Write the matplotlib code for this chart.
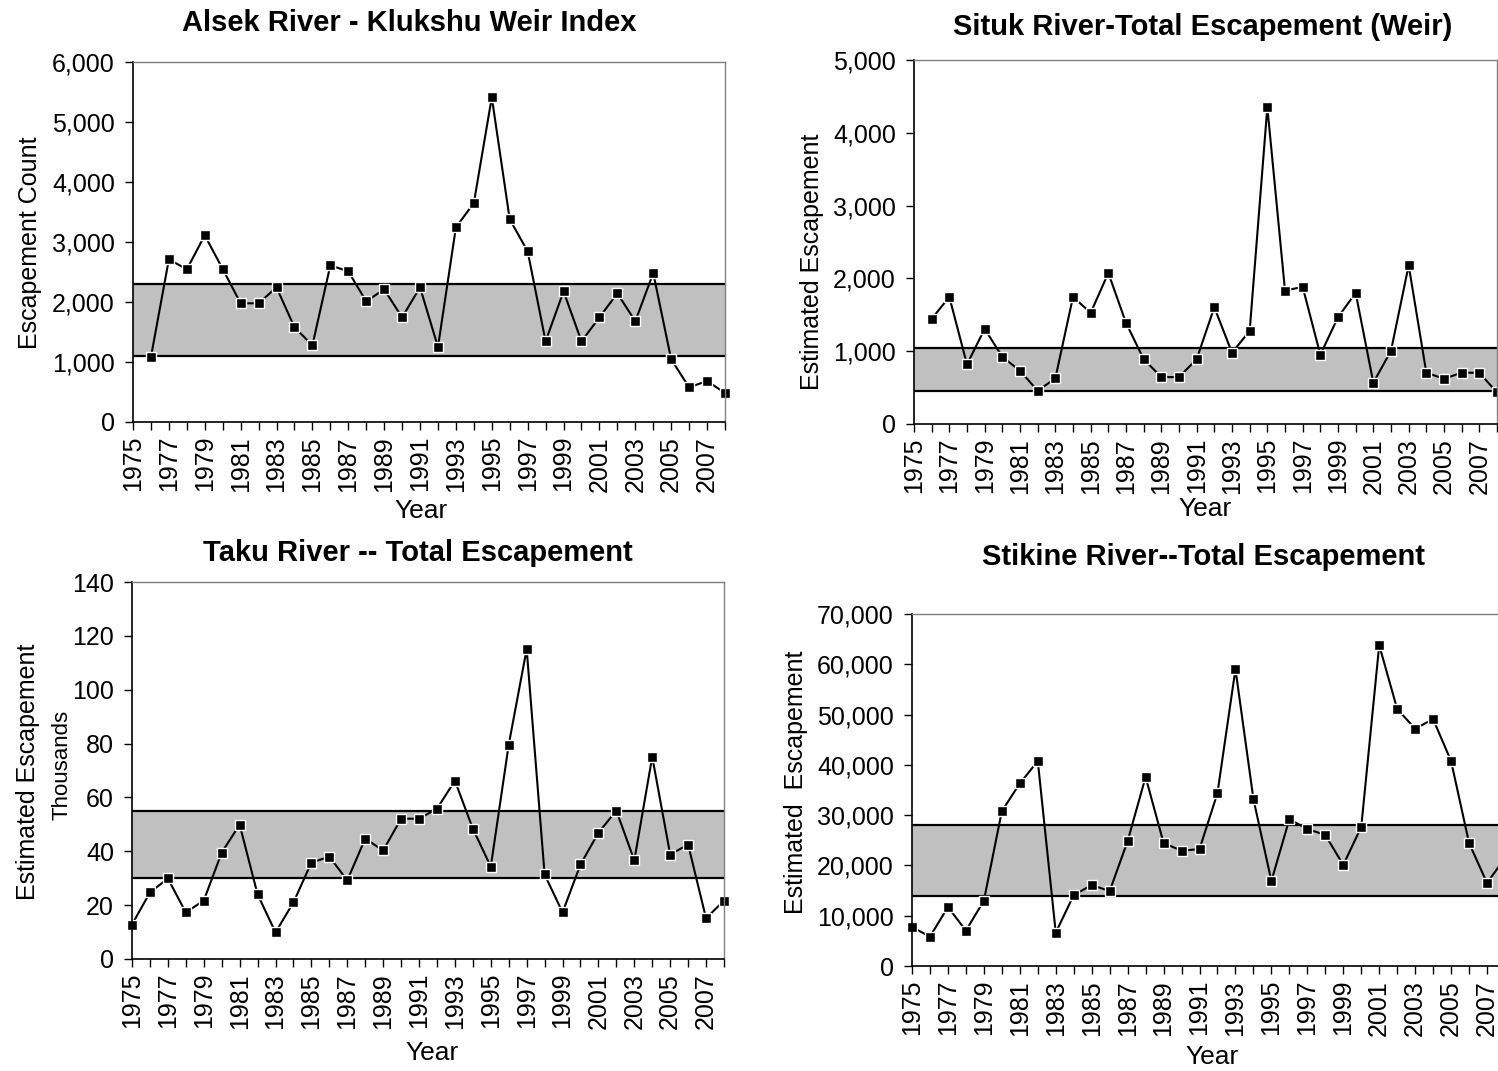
import numpy as np
import matplotlib.pyplot as plt
from matplotlib.ticker import FuncFormatter, MultipleLocator

plt.rcParams['font.family'] = ['Liberation Sans', 'DejaVu Sans']

# Alsek River - Klukshu weir index, 1976-2008
alsek_years = list(range(1976, 2009))
alsek = [1083, 2711, 2544, 3111, 2550, 1978, 1978, 2244, 1578, 1278,
         2611, 2511, 2011, 2211, 1744, 2244, 1250, 3244, 3650, 5411,
         3378, 2844, 1344, 2178, 1344, 1744, 2144, 1678, 2483, 1044,
         578, 683, 483]
alsek_goal = (1100, 2300)

# Situk River total escapement (weir), 1976-2008
situk_years = list(range(1976, 2009))
situk = [1444, 1746, 818, 1307, 923, 731, 457, 626, 1746, 1527,
         2075, 1389, 891, 644, 644, 891, 1604, 978, 1280, 4351,
         1833, 1883, 951, 1467, 1801, 567, 1005, 2180, 704, 622,
         704, 704, 434]
situk_goal = (450, 1050)

# Taku River total escapement (thousands), 1975-2008
taku_years = list(range(1975, 2009))
taku = [12.8, 24.7, 29.9, 17.3, 21.7, 39.5, 49.9, 24.0, 9.9, 21.0,
        35.8, 38.0, 29.2, 44.7, 40.3, 52.1, 52.1, 55.8, 66.2, 48.4,
        34.3, 79.6, 115.1, 31.4, 17.3, 35.1, 46.9, 55.1, 36.6, 75.1,
        38.8, 42.5, 15.1, 21.7]
taku_goal = (30, 55)

# Stikine River total escapement, 1975-2008
stikine_years = list(range(1975, 2009))
stikine = [7750, 5830, 11730, 7030, 12990, 30800, 36300, 40750, 6630, 14100,
           16100, 14900, 24850, 37600, 24450, 22930, 23250, 34400, 59050, 33200,
           16900, 29200, 27250, 26050, 20100, 27650, 63800, 51100, 47200, 49100,
           40750, 24450, 16500, 21500]
stikine_goal = (14000, 28000)

year_labels = list(range(1975, 2009, 2))

W, H = 1498, 1071
fig = plt.figure(figsize=[W / 100, H / 100], dpi=100)


def box(left, right, top, bottom):
    return [left / W, 1 - bottom / H, (right - left) / W, (bottom - top) / H]


comma = FuncFormatter(lambda v, p: "{:,.0f}".format(v))


def panel(rect, years, vals, goal, ymax, ystep, fmt=None):
    ax = fig.add_axes(rect)
    ax.axhspan(goal[0], goal[1], facecolor="#c0c0c0", edgecolor="none", zorder=0)
    ax.axhline(goal[0], color="black", lw=1.6, zorder=1)
    ax.axhline(goal[1], color="black", lw=1.6, zorder=1)
    ax.plot(years, vals, "-", color="black", lw=1.5, zorder=2,
            marker="s", ms=7.8, mfc="black", mec="white", mew=1.0, clip_on=False)
    ax.set_xlim(1975, 2008)
    ax.set_ylim(0, ymax)
    ax.set_xticks(range(1975, 2009))
    ax.set_xticklabels([str(y) if y in year_labels else "" for y in range(1975, 2009)],
                       rotation=90)
    ax.yaxis.set_major_locator(MultipleLocator(ystep))
    if fmt is not None:
        ax.yaxis.set_major_formatter(fmt)
    for s in ["top", "right"]:
        ax.spines[s].set_color("#808080")
        ax.spines[s].set_linewidth(1.0)
    for s in ["left", "bottom"]:
        ax.spines[s].set_color("black")
        ax.spines[s].set_linewidth(1.2)
    ax.tick_params(direction="out", length=6, width=1, labelsize=18, pad=4)
    ax.tick_params(axis="y", pad=7)
    return ax


panel(box(133, 725, 62, 422), alsek_years, alsek, alsek_goal, 6000, 1000, comma)
panel(box(914, 1497, 60, 424), situk_years, situk, situk_goal, 5000, 1000, comma)
panel(box(132, 724, 582, 959), taku_years, taku, taku_goal, 140, 20)
panel(box(912, 1505, 614, 966), stikine_years, stikine, stikine_goal, 70000, 10000, comma)


def ftext(x, y, s, **kw):
    fig.text(x / W, 1 - y / H, s, ha="center", va="center", **kw)


# titles
ftext(409, 23, "Alsek River - Klukshu Weir Index", fontsize=21, fontweight="bold")
ftext(1203, 27, "Situk River-Total Escapement (Weir)", fontsize=21, fontweight="bold")
ftext(418, 553, "Taku River -- Total Escapement", fontsize=21, fontweight="bold")
ftext(1204, 557, "Stikine River--Total Escapement", fontsize=21, fontweight="bold")

# axis labels
ftext(30, 243, "Escapement Count", fontsize=18, rotation=90)
ftext(812, 262, "Estimated Escapement", fontsize=18, rotation=90)
ftext(28, 772, "Estimated Escapement", fontsize=18, rotation=90)
ftext(62, 765, "Thousands", fontsize=16, rotation=90)
ftext(796, 782, "Estimated  Escapement", fontsize=18, rotation=90)

ftext(421, 511, "Year", fontsize=19)
ftext(1205, 509, "Year", fontsize=19)
ftext(432, 1053, "Year", fontsize=19)
ftext(1212, 1057, "Year", fontsize=19)

fig.savefig("out.png", dpi=100)
